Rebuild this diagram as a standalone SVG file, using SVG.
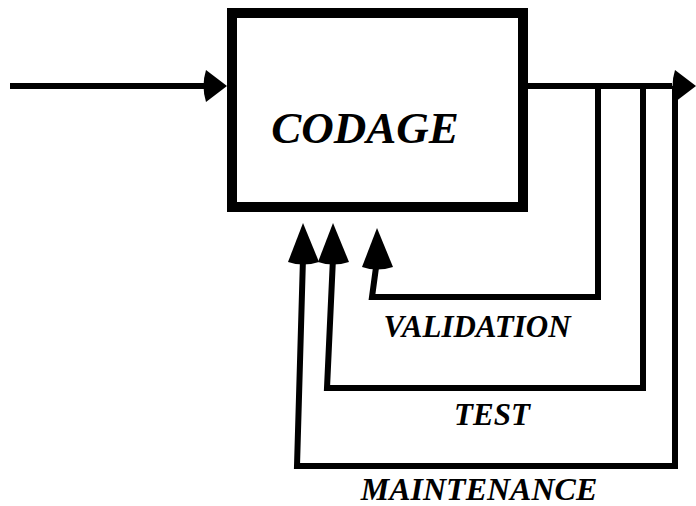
<svg xmlns="http://www.w3.org/2000/svg" width="696" height="506" viewBox="0 0 696 506">
<style>
.ln{fill:none;stroke:#000;stroke-width:6;stroke-linejoin:miter;stroke-linecap:butt}
.box{fill:#fff;stroke:#000;stroke-width:10}
.hd{fill:#000}
text{font-family:'Liberation Serif','Times New Roman',serif;font-weight:700;font-style:italic;fill:#000;text-anchor:middle}
</style>
<defs>
<path id="ah" d="M0,0 L-21,-16 Q-26,0 -21,16 Z"/>
<path id="av" d="M0,0 L-15,39 Q0,44 16,39 Z"/>
</defs>
<g id="connectors">
<path class="ln" d="M10,86 H210"/>
<path class="ln" d="M528,86 H672"/>
<use href="#ah" class="hd" x="227" y="86"/>
<use href="#ah" class="hd" x="696" y="86"/>
<path class="ln" d="M598,86 V297 H372 L377,260"/>
<use href="#av" class="hd" x="377" y="228"/>
<path class="ln" d="M643,86 V388 H327 L333,258"/>
<use href="#av" class="hd" x="333" y="223"/>
<path class="ln" d="M675,86 V466 H297 L303,258"/>
<use href="#av" class="hd" x="303" y="223"/>
</g>
<g id="codage">
<rect class="box" x="232" y="13" width="291" height="194"/>
<text x="365" y="143" font-size="45">CODAGE</text>
</g>
<g id="validation">
<text x="477" y="337" font-size="31">VALIDATION</text>
</g>
<g id="test">
<text x="492" y="425" font-size="31">TEST</text>
</g>
<g id="maintenance">
<text x="479" y="500" font-size="32">MAINTENANCE</text>
</g>
</svg>
